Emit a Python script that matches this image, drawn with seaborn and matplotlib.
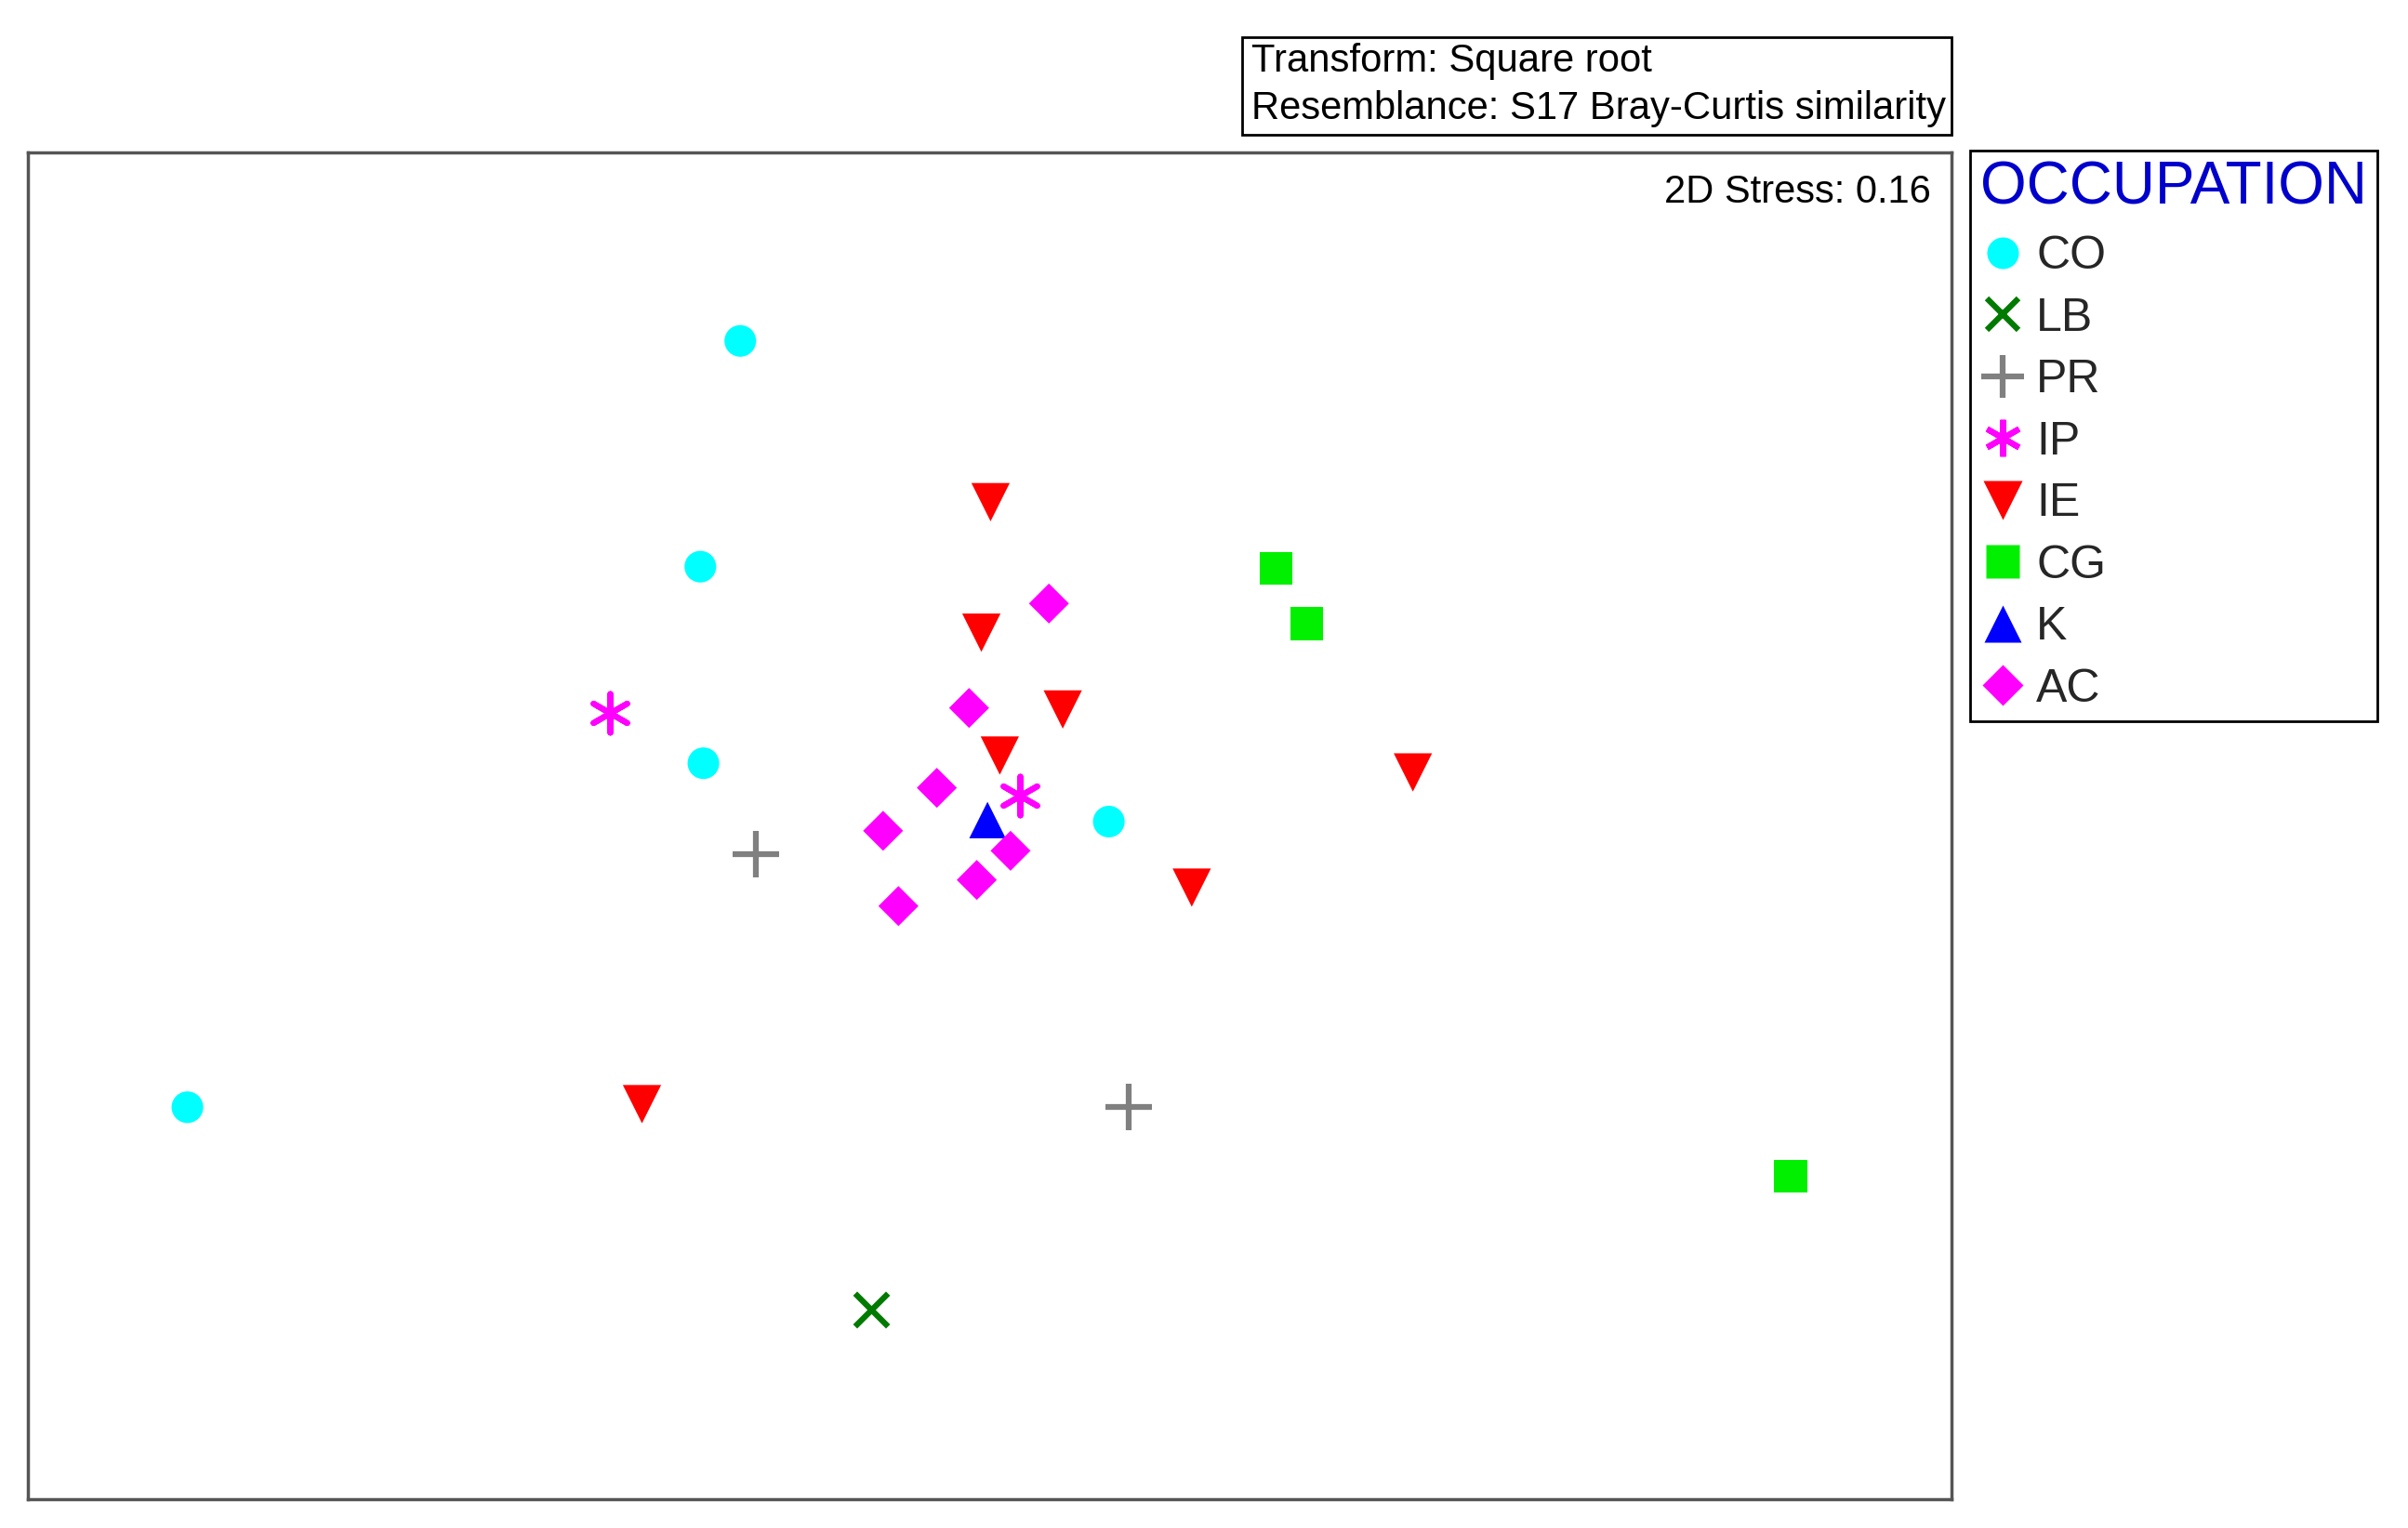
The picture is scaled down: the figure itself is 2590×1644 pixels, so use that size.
import matplotlib
matplotlib.use("Agg")
import matplotlib.pyplot as plt
import seaborn as sns
import pandas as pd
from matplotlib.lines import Line2D
from matplotlib.patches import Rectangle

sns.set_theme(style="white")
plt.rcParams['font.family'] = ['Liberation Sans', 'DejaVu Sans']

# ---- data (nMDS coordinates) ----
groups = ["CO", "LB", "PR", "IP", "IE", "CG", "K", "AC"]

co_x = [-0.324, -0.376, -0.372, 0.156, -1.044]
co_y = [0.630, 0.336, 0.080, 0.004, -0.368]
lb_x = [-0.154]
lb_y = [-0.632]
pr_x = [-0.304, 0.182]
pr_y = [-0.038, -0.368]
ip_x = [-0.494, 0.040]
ip_y = [0.146, 0.038]
ie_x = [0.002, -0.010, 0.096, 0.014, 0.552, 0.264, -0.452]
ie_y = [0.420, 0.250, 0.150, 0.090, 0.068, -0.082, -0.364]
cg_x = [0.374, 0.414, 1.044]
cg_y = [0.334, 0.262, -0.458]
k_x = [-0.002]
k_y = [0.006]
ac_x = [0.078, -0.026, -0.068, -0.138, 0.028, -0.016, -0.118]
ac_y = [0.288, 0.152, 0.048, -0.008, -0.034, -0.072, -0.106]

xs = [co_x, lb_x, pr_x, ip_x, ie_x, cg_x, k_x, ac_x]
ys = [co_y, lb_y, pr_y, ip_y, ie_y, cg_y, k_y, ac_y]

rows = []
for g, gx, gy in zip(groups, xs, ys):
    for a, b in zip(gx, gy):
        rows.append({"x": a, "y": b, "OCCUPATION": g})
df = pd.DataFrame(rows)

colors = {"CO": "#00FFFF", "LB": "#007A00", "PR": "#808080", "IP": "#FF00FF",
          "IE": "#FF0000", "CG": "#00F000", "K": "#0000FF", "AC": "#FF00FF"}
markers = {"CO": "o", "LB": "x", "PR": "+", "IP": (6, 2, 0),
           "IE": "v", "CG": "s", "K": "^", "AC": "D"}
sizes = {"CO": 600, "LB": 650, "PR": 1250, "IP": 900,
         "IE": 880, "CG": 650, "K": 800, "AC": 480}
filled = {"CO": True, "LB": False, "PR": False, "IP": False,
          "IE": True, "CG": True, "K": True, "AC": True}

fig = plt.figure(figsize=(25.9, 16.44), dpi=100)
ax = fig.add_axes([0.0115, 0.0191, 0.7991, 0.8814])

for g in groups:
    sub = df[df["OCCUPATION"] == g]
    if filled[g]:
        sns.scatterplot(data=sub, x="x", y="y", ax=ax, color=colors[g],
                        marker=markers[g], s=sizes[g], edgecolor="none",
                        linewidth=0, legend=False, zorder=3)
    else:
        sns.scatterplot(data=sub, x="x", y="y", ax=ax, color=colors[g],
                        marker=markers[g], s=sizes[g], linewidth=4.5,
                        legend=False, zorder=3)

ax.set_xlim(-1.252, 1.254)
ax.set_ylim(-0.878, 0.876)
ax.set_xticks([])
ax.set_yticks([])
ax.set_xlabel("")
ax.set_ylabel("")
for sp in ax.spines.values():
    sp.set_visible(True)
    sp.set_color("#555555")
    sp.set_linewidth(2.5)

ax.text(0.989, 0.984, "2D Stress: 0.16", transform=ax.transAxes,
        ha="right", va="top", fontsize=30, color="black")

# ---- top info box ----
fig.patches.append(Rectangle((0.516, 0.9116), 0.2946, 0.0643,
                             transform=fig.transFigure, fill=False,
                             edgecolor="black", linewidth=2))
fig.text(0.5198, 0.9598, "Transform: Square root", ha="left", va="center",
         fontsize=30.1, color="black")
fig.text(0.5198, 0.9286, "Resemblance: S17 Bray-Curtis similarity",
         ha="left", va="center", fontsize=30.1, color="black")

# ---- legend ----
handles = []
for g in groups:
    if filled[g]:
        h = Line2D([], [], linestyle="none", marker=markers[g], color=colors[g],
                   markeredgecolor="none", markersize=sizes[g] ** 0.5)
    else:
        h = Line2D([], [], linestyle="none", marker=markers[g], color=colors[g],
                   markeredgewidth=4.5, markersize=sizes[g] ** 0.5 * 0.95)
    handles.append(h)

leg = fig.legend(handles, groups, title="OCCUPATION", loc="upper left",
                 bbox_to_anchor=(0.8182, 0.9015), fontsize=36,
                 title_fontsize=46, frameon=True, fancybox=False,
                 borderaxespad=0, handletextpad=0.25, handlelength=0.95,
                 labelspacing=0.41, borderpad=0.22, alignment="left")
leg.get_title().set_color("#0000CC")
fr = leg.get_frame()
fr.set_edgecolor("black")
fr.set_linewidth(2)
fr.set_facecolor("white")
fr.set_alpha(1)

fig.savefig("out.png", dpi=100, facecolor="white")
